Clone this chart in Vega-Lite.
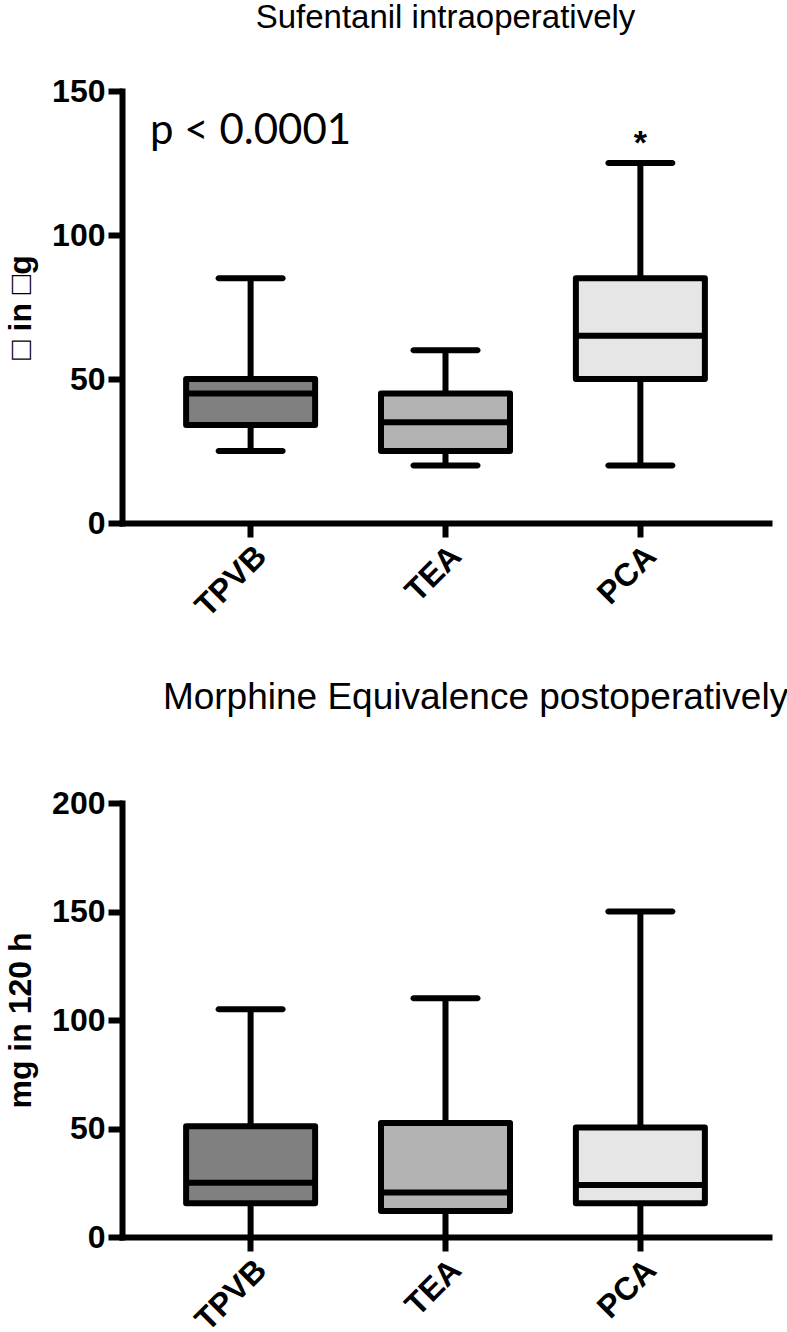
{
  "$schema": "https://vega.github.io/schema/vega-lite/v6.json",
  "background": "white",
  "padding": {"left": 4, "top": 2, "right": 0, "bottom": 0},
  "spacing": 56,
  "datasets": {
    "sufentanil": [
      {"group": "TPVB", "min": 25, "q1": 34, "median": 45, "q3": 50, "max": 85},
      {"group": "TEA", "min": 20, "q1": 25, "median": 35, "q3": 45, "max": 60},
      {"group": "PCA", "min": 20, "q1": 50, "median": 65, "q3": 85, "max": 125}
    ],
    "morphine": [
      {"group": "TPVB", "min": 0, "q1": 15.5, "median": 25, "q3": 51, "max": 105},
      {"group": "TEA", "min": 0, "q1": 12, "median": 20.5, "q3": 52.5, "max": 110},
      {"group": "PCA", "min": 0, "q1": 15.5, "median": 24, "q3": 50.5, "max": 150}
    ],
    "notes": [
      {"group": "TPVB", "value": 136, "label": "p < 0.0001"}
    ],
    "stars": [
      {"group": "PCA", "value": 128, "label": "*"}
    ]
  },
  "config": {
    "view": {"stroke": null},
    "font": "Liberation Sans",
    "axis": {
      "grid": false,
      "domainColor": "black",
      "domainWidth": 6,
      "domainCap": "square",
      "tickColor": "black",
      "tickWidth": 6,
      "tickSize": 14,
      "labelFont": "Liberation Sans",
      "labelFontWeight": "bold",
      "labelFontSize": 32,
      "labelColor": "black",
      "labelPadding": 3,
      "titleFont": "Liberation Sans",
      "titleFontWeight": "bold",
      "titleFontSize": 32,
      "titleColor": "black"
    },
    "title": {"font": "Liberation Sans", "fontWeight": "normal", "color": "black"}
  },
  "vconcat": [
    {
      "width": 647,
      "height": 432,
      "title": {"text": "Sufentanil intraoperatively", "fontSize": 33, "offset": 40},
      "data": {"name": "sufentanil"},
      "encoding": {
        "x": {
          "field": "group", "type": "nominal", "sort": ["TPVB", "TEA", "PCA"],
          "scale": {"paddingInner": 0.3, "paddingOuter": 0.31},
          "axis": {"title": null, "labelAngle": -45, "labelAlign": "right", "labelBaseline": "top"}
        }
      },
      "layer": [
        {
          "mark": {"type": "rule", "color": "black", "strokeWidth": 6},
          "encoding": {
            "y": {"field": "min", "type": "quantitative", "scale": {"domain": [0, 150], "nice": false},
                  "axis": {"values": [0, 50, 100, 150], "title": "□ in □g", "titlePadding": 14}},
            "y2": {"field": "max"}
          }
        },
        {
          "mark": {"type": "bar", "size": 129, "stroke": "black", "strokeWidth": 6, "strokeJoin": "round"},
          "encoding": {
            "y": {"field": "q1", "type": "quantitative", "scale": {"domain": [0, 150], "nice": false}},
            "y2": {"field": "q3"},
            "color": {"field": "group", "type": "nominal", "legend": null,
                      "scale": {"domain": ["TPVB", "TEA", "PCA"], "range": ["#808080", "#b3b3b3", "#e6e6e6"]}}
          }
        },
        {
          "mark": {"type": "tick", "color": "black", "size": 132, "thickness": 6, "opacity": 1},
          "encoding": {"y": {"field": "median", "type": "quantitative", "scale": {"domain": [0, 150], "nice": false}}}
        },
        {
          "mark": {"type": "tick", "color": "black", "size": 70, "thickness": 6, "cornerRadius": 3, "opacity": 1},
          "encoding": {"y": {"field": "min", "type": "quantitative", "scale": {"domain": [0, 150], "nice": false}}}
        },
        {
          "mark": {"type": "tick", "color": "black", "size": 70, "thickness": 6, "cornerRadius": 3, "opacity": 1},
          "encoding": {"y": {"field": "max", "type": "quantitative", "scale": {"domain": [0, 150], "nice": false}}}
        },
        {
          "data": {"name": "notes"},
          "mark": {"type": "text", "font": "Lato", "fontSize": 42, "align": "center", "baseline": "middle", "color": "black"},
          "encoding": {
            "y": {"field": "value", "type": "quantitative", "scale": {"domain": [0, 150], "nice": false}},
            "text": {"field": "label"}
          }
        },
        {
          "data": {"name": "stars"},
          "mark": {"type": "text", "fontSize": 34, "fontWeight": "bold", "align": "center", "baseline": "alphabetic", "color": "black"},
          "encoding": {
            "y": {"field": "value", "type": "quantitative", "scale": {"domain": [0, 150], "nice": false}},
            "text": {"field": "label"}
          }
        }
      ]
    },
    {
      "width": 647,
      "height": 434,
      "title": {"text": "Morphine Equivalence postoperatively", "fontSize": 37, "offset": 70, "dx": 30},
      "data": {"name": "morphine"},
      "encoding": {
        "x": {
          "field": "group", "type": "nominal", "sort": ["TPVB", "TEA", "PCA"],
          "scale": {"paddingInner": 0.3, "paddingOuter": 0.31},
          "axis": {"title": null, "labelAngle": -45, "labelAlign": "right", "labelBaseline": "top"}
        }
      },
      "layer": [
        {
          "mark": {"type": "rule", "color": "black", "strokeWidth": 6},
          "encoding": {
            "y": {"field": "min", "type": "quantitative", "scale": {"domain": [0, 200], "nice": false},
                  "axis": {"values": [0, 50, 100, 150, 200], "title": "mg in 120 h", "titlePadding": 14}},
            "y2": {"field": "max"}
          }
        },
        {
          "mark": {"type": "bar", "size": 129, "stroke": "black", "strokeWidth": 6, "strokeJoin": "round"},
          "encoding": {
            "y": {"field": "q1", "type": "quantitative", "scale": {"domain": [0, 200], "nice": false}},
            "y2": {"field": "q3"},
            "color": {"field": "group", "type": "nominal", "legend": null,
                      "scale": {"domain": ["TPVB", "TEA", "PCA"], "range": ["#808080", "#b3b3b3", "#e6e6e6"]}}
          }
        },
        {
          "mark": {"type": "tick", "color": "black", "size": 132, "thickness": 6, "opacity": 1},
          "encoding": {"y": {"field": "median", "type": "quantitative", "scale": {"domain": [0, 200], "nice": false}}}
        },
        {
          "mark": {"type": "tick", "color": "black", "size": 70, "thickness": 6, "cornerRadius": 3, "opacity": 1},
          "encoding": {"y": {"field": "max", "type": "quantitative", "scale": {"domain": [0, 200], "nice": false}}}
        }
      ]
    }
  ]
}
